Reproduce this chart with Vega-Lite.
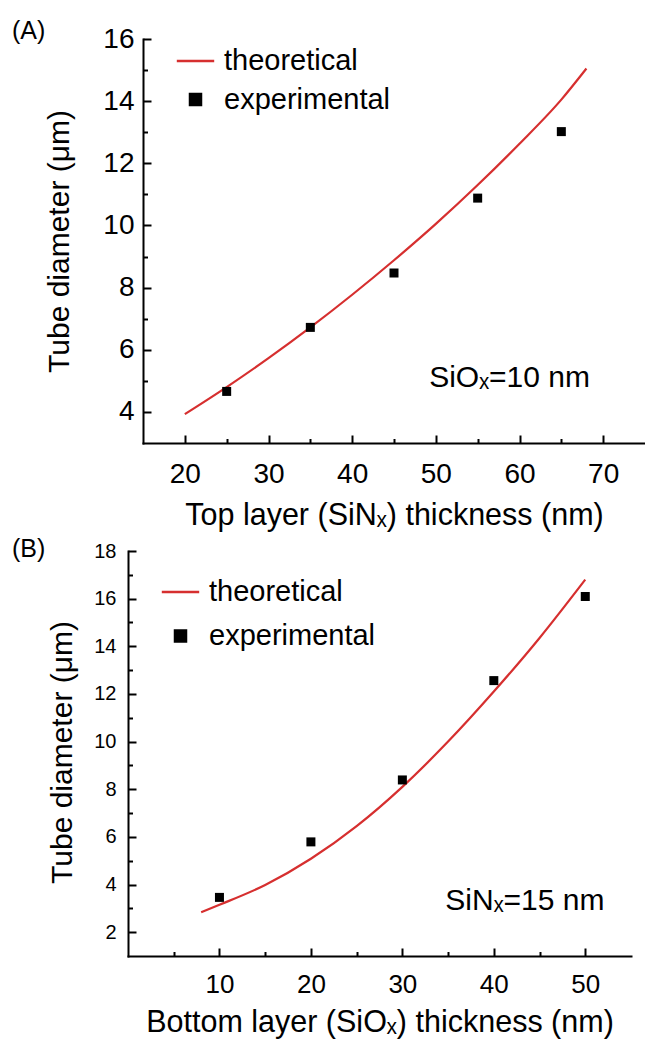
{
  "$schema": "https://vega.github.io/schema/vega-lite/v6.json",
  "padding": {"left": 12, "top": 19, "right": 0, "bottom": 0},
  "spacing": 6,
  "config": {
    "view": {"stroke": null},
    "font": "Liberation Sans",
    "axis": {"grid": false, "domainColor": "#000", "tickColor": "#000", "labelColor": "#000", "titleColor": "#000", "titleFontWeight": "normal", "labelFont": "Liberation Sans", "titleFont": "Liberation Sans", "domainWidth": 2, "tickWidth": 2, "domainCap": "square", "labelFlush": false, "labelOverlap": false},
    "legend": {"labelFont": "Liberation Sans", "labelColor": "#000", "labelFontSize": 29, "labelLimit": 0, "symbolSize": 121, "padding": 0},
    "title": {"font": "Liberation Sans", "fontWeight": "normal", "color": "#000", "fontSize": 25, "anchor": "start", "frame": "group", "offset": 0, "baseline": "alphabetic"}
  },
  "datasets": {
    "theoA": [
      {"x": 20, "y": 3.93, "series": "theoretical"},
      {"x": 25, "y": 4.80, "series": "theoretical"},
      {"x": 30, "y": 5.73, "series": "theoretical"},
      {"x": 35, "y": 6.72, "series": "theoretical"},
      {"x": 40, "y": 7.77, "series": "theoretical"},
      {"x": 45, "y": 8.88, "series": "theoretical"},
      {"x": 50, "y": 10.05, "series": "theoretical"},
      {"x": 55, "y": 11.30, "series": "theoretical"},
      {"x": 60, "y": 12.63, "series": "theoretical"},
      {"x": 65, "y": 14.05, "series": "theoretical"},
      {"x": 68, "y": 15.05, "series": "theoretical"}
    ],
    "expA": [
      {"x": 25, "y": 4.66, "series": "experimental"},
      {"x": 35, "y": 6.72, "series": "experimental"},
      {"x": 45, "y": 8.47, "series": "experimental"},
      {"x": 55, "y": 10.88, "series": "experimental"},
      {"x": 65, "y": 13.02, "series": "experimental"}
    ],
    "theoB": [
      {"x": 8, "y": 2.84, "series": "theoretical"},
      {"x": 10, "y": 3.15, "series": "theoretical"},
      {"x": 15, "y": 3.98, "series": "theoretical"},
      {"x": 20, "y": 5.08, "series": "theoretical"},
      {"x": 25, "y": 6.45, "series": "theoretical"},
      {"x": 30, "y": 8.10, "series": "theoretical"},
      {"x": 35, "y": 10.0, "series": "theoretical"},
      {"x": 40, "y": 12.1, "series": "theoretical"},
      {"x": 45, "y": 14.35, "series": "theoretical"},
      {"x": 50, "y": 16.8, "series": "theoretical"}
    ],
    "expB": [
      {"x": 10, "y": 3.46, "series": "experimental"},
      {"x": 20, "y": 5.79, "series": "experimental"},
      {"x": 30, "y": 8.39, "series": "experimental"},
      {"x": 40, "y": 12.56, "series": "experimental"},
      {"x": 50, "y": 16.09, "series": "experimental"}
    ]
  },
  "resolve": {"scale": {"color": "independent"}, "legend": {"color": "independent"}},
  "vconcat": [
    {
      "width": 517,
      "height": 404,
      "title": {"text": "(A)", "dx": -116, "dy": 23.3},
      "resolve": {"axis": {"x": "independent", "y": "independent"}},
      "layer": [
        {
          "data": {"name": "theoA"},
          "mark": {"type": "line", "strokeWidth": 2.2, "interpolate": "monotone"},
          "encoding": {
            "x": {"field": "x", "type": "quantitative", "scale": {"domain": [15, 75], "range": [15, 517], "nice": false, "zero": false},
              "axis": {"orient": "bottom", "values": [20, 30, 40, 50, 60, 70], "ticks": false, "labelPadding": 17, "labelFontSize": 28, "title": "Top layer (SiNₓ) thickness (nm)", "titleFontSize": 30.5, "titleY": 81, "titleBaseline": "alphabetic"}},
            "y": {"field": "y", "type": "quantitative", "scale": {"domain": [3, 16], "nice": false, "zero": false},
              "axis": {"orient": "left", "offset": -15, "values": [4, 6, 8, 10, 12, 14, 16], "ticks": false, "labelPadding": 9, "labelFontSize": 28, "title": "Tube diameter (μm)", "titleFontSize": 30, "titleX": -75, "titleY": 202, "titleAngle": -90, "titleAlign": "center", "titleBaseline": "alphabetic"}},
            "color": {"field": "series", "type": "nominal", "scale": {"domain": ["theoretical", "experimental"], "range": ["#d62f2f", "#000000"]},
              "legend": {"title": null, "orient": "none", "legendX": 53, "legendY": 7.5, "rowPadding": 8.5, "labelOffset": 14, "symbolSize": 121,
                "encode": {"symbols": {"update": {"shape": {"signal": "datum.value === 'theoretical' ? 'M-3.4,0H3.4' : 'square'"}, "fill": {"signal": "datum.value === 'theoretical' ? 'transparent' : '#000000'"}, "stroke": {"signal": "datum.value === 'theoretical' ? '#d62f2f' : 'transparent'"}, "strokeWidth": {"value": 2.5}, "opacity": {"value": 1}}}}}}
          }
        },
        {
          "data": {"name": "expA"},
          "mark": {"type": "point", "shape": "square", "filled": true, "size": 81, "opacity": 1},
          "encoding": {
            "x": {"field": "x", "type": "quantitative", "scale": {"domain": [15, 75], "range": [15, 517], "nice": false, "zero": false},
              "axis": {"orient": "bottom", "values": [20, 30, 40, 50, 60, 70], "labels": false, "domain": false, "tickSize": -8, "title": null}},
            "y": {"field": "y", "type": "quantitative", "scale": {"domain": [3, 16], "nice": false, "zero": false},
              "axis": {"orient": "left", "offset": -15, "values": [4, 6, 8, 10, 12, 14, 16], "labels": false, "domain": false, "tickSize": -8, "title": null}},
            "color": {"field": "series", "type": "nominal", "scale": {"domain": ["theoretical", "experimental"], "range": ["#d62f2f", "#000000"]},
              "legend": {"title": null, "orient": "none", "legendX": 53, "legendY": 7.5, "rowPadding": 8.5, "labelOffset": 14, "symbolSize": 121,
                "encode": {"symbols": {"update": {"shape": {"signal": "datum.value === 'theoretical' ? 'M-3.4,0H3.4' : 'square'"}, "fill": {"signal": "datum.value === 'theoretical' ? 'transparent' : '#000000'"}, "stroke": {"signal": "datum.value === 'theoretical' ? '#d62f2f' : 'transparent'"}, "strokeWidth": {"value": 2.5}, "opacity": {"value": 1}}}}}}
          }
        },
        {
          "data": {"values": [{}]},
          "mark": {"type": "text", "align": "left", "baseline": "middle", "fontSize": 30, "font": "Liberation Sans", "color": "#000"},
          "encoding": {
            "x": {"datum": 49.2, "type": "quantitative", "scale": {"domain": [15, 75], "range": [15, 517], "nice": false, "zero": false},
              "axis": {"orient": "bottom", "values": [25, 35, 45, 55, 65], "labels": false, "domain": false, "tickSize": -4.5, "title": null}},
            "y": {"datum": 5.1, "type": "quantitative", "scale": {"domain": [3, 16], "nice": false, "zero": false},
              "axis": {"orient": "left", "offset": -15, "values": [5, 7, 9, 11, 13, 15], "labels": false, "domain": false, "tickSize": -4.5, "title": null}},
            "text": {"value": "SiOₓ=10 nm"}
          }
        }
      ]
    },
    {
      "width": 503,
      "height": 405,
      "title": {"text": "(B)", "dx": -116, "dy": 25},
      "resolve": {"axis": {"x": "independent", "y": "independent"}},
      "layer": [
        {
          "data": {"name": "theoB"},
          "mark": {"type": "line", "strokeWidth": 2.2, "interpolate": "monotone"},
          "encoding": {
            "x": {"field": "x", "type": "quantitative", "scale": {"domain": [0, 55], "nice": false, "zero": false},
              "axis": {"orient": "bottom", "values": [10, 20, 30, 40, 50], "ticks": false, "labelPadding": 15.4, "labelFontSize": 26, "title": "Bottom layer (SiOₓ) thickness (nm)", "titleFontSize": 30.5, "titleY": 75.7, "titleBaseline": "alphabetic"}},
            "y": {"field": "y", "type": "quantitative", "scale": {"domain": [1, 18], "nice": false, "zero": false},
              "axis": {"orient": "left", "values": [2, 4, 6, 8, 10, 12, 14, 16, 18], "ticks": false, "labelPadding": 12, "labelFontSize": 20, "title": "Tube diameter (μm)", "titleFontSize": 30, "titleX": -56.3, "titleY": 201, "titleAngle": -90, "titleAlign": "center", "titleBaseline": "alphabetic"}},
            "color": {"field": "series", "type": "nominal", "scale": {"domain": ["theoretical", "experimental"], "range": ["#d62f2f", "#000000"]},
              "legend": {"title": null, "orient": "none", "legendX": 38, "legendY": 26.5, "rowPadding": 14, "labelOffset": 14, "symbolSize": 121,
                "encode": {"symbols": {"update": {"shape": {"signal": "datum.value === 'theoretical' ? 'M-3.4,0H3.4' : 'square'"}, "fill": {"signal": "datum.value === 'theoretical' ? 'transparent' : '#000000'"}, "stroke": {"signal": "datum.value === 'theoretical' ? '#d62f2f' : 'transparent'"}, "strokeWidth": {"value": 2.5}, "opacity": {"value": 1}}}}}}
          }
        },
        {
          "data": {"name": "expB"},
          "mark": {"type": "point", "shape": "square", "filled": true, "size": 81, "opacity": 1},
          "encoding": {
            "x": {"field": "x", "type": "quantitative", "scale": {"domain": [0, 55], "nice": false, "zero": false},
              "axis": {"orient": "bottom", "values": [10, 20, 30, 40, 50], "labels": false, "domain": false, "tickSize": -8, "title": null}},
            "y": {"field": "y", "type": "quantitative", "scale": {"domain": [1, 18], "nice": false, "zero": false},
              "axis": {"orient": "left", "values": [2, 4, 6, 8, 10, 12, 14, 16, 18], "labels": false, "domain": false, "tickSize": -8, "title": null}},
            "color": {"field": "series", "type": "nominal", "scale": {"domain": ["theoretical", "experimental"], "range": ["#d62f2f", "#000000"]},
              "legend": {"title": null, "orient": "none", "legendX": 38, "legendY": 26.5, "rowPadding": 14, "labelOffset": 14, "symbolSize": 121,
                "encode": {"symbols": {"update": {"shape": {"signal": "datum.value === 'theoretical' ? 'M-3.4,0H3.4' : 'square'"}, "fill": {"signal": "datum.value === 'theoretical' ? 'transparent' : '#000000'"}, "stroke": {"signal": "datum.value === 'theoretical' ? '#d62f2f' : 'transparent'"}, "strokeWidth": {"value": 2.5}, "opacity": {"value": 1}}}}}}
          }
        },
        {
          "data": {"values": [{}]},
          "mark": {"type": "text", "align": "left", "baseline": "middle", "fontSize": 30, "font": "Liberation Sans", "color": "#000"},
          "encoding": {
            "x": {"datum": 34.7, "type": "quantitative", "scale": {"domain": [0, 55], "nice": false, "zero": false},
              "axis": {"orient": "bottom", "values": [5, 15, 25, 35, 45], "labels": false, "domain": false, "tickSize": -4.5, "title": null}},
            "y": {"datum": 3.3, "type": "quantitative", "scale": {"domain": [1, 18], "nice": false, "zero": false},
              "axis": {"orient": "left", "values": [3, 5, 7, 9, 11, 13, 15, 17], "labels": false, "domain": false, "tickSize": -4.5, "title": null}},
            "text": {"value": "SiNₓ=15 nm"}
          }
        }
      ]
    }
  ]
}
